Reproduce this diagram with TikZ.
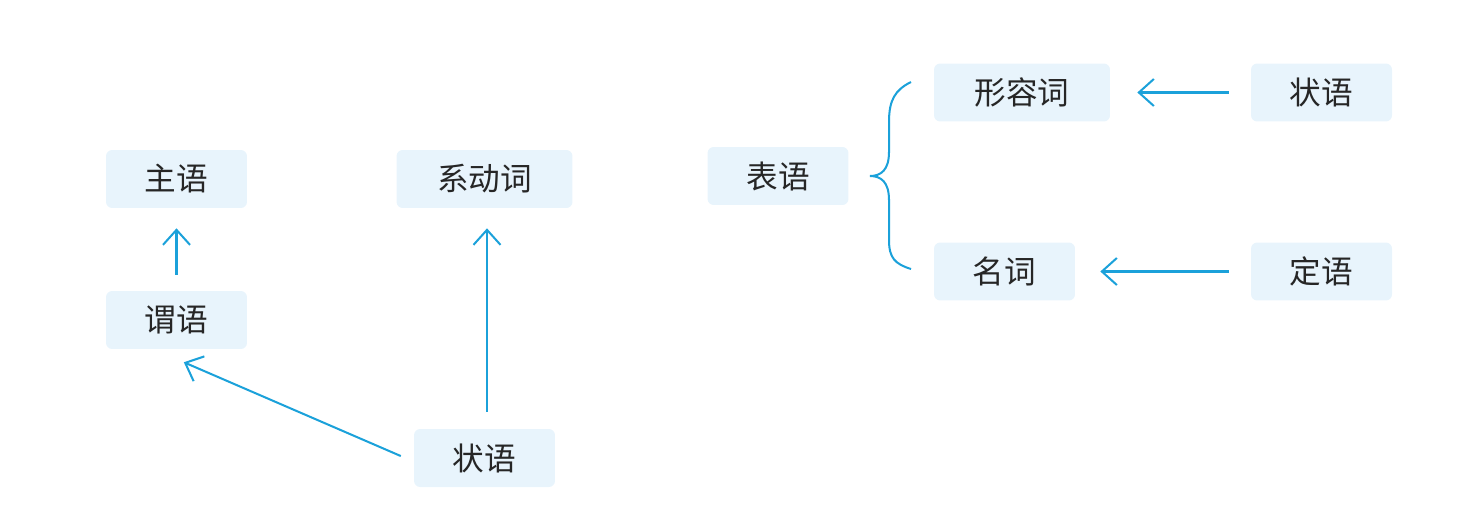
\documentclass[tikz,border=0pt]{standalone}
\usepackage{fontspec}
\usepackage{tikz}
\usetikzlibrary{arrows.meta,calc}
\setmainfont{Noto Sans CJK SC}
\definecolor{boxfill}{HTML}{E8F4FC}
\definecolor{linkblue}{HTML}{1BA1DA}
\definecolor{wordtext}{HTML}{262626}

\begin{document}
\begin{tikzpicture}[x=0.02cm,y=-0.02cm,
        word/.style={fill=boxfill,rounded corners=3.5pt,minimum width=2.82cm,minimum height=1.16cm,inner xsep=0pt,text=wordtext,font=\fontsize{18pt}{21pt}\selectfont},
        wide/.style={word,minimum width=3.52cm},
        arr/.style={draw=linkblue,line width=1.15pt,-{Straight Barb[length=0.3cm,width=0.54cm,line width=1.15pt]}},
        brace/.style={draw=linkblue,line width=1.15pt}]
    \useasboundingbox (0,0) rectangle (1484,524);
    \node[word] (zhuyu) at (176.5,179) {主语};
    \node[word] (weiyu) at (176.5,320) {谓语};
    \node[wide] (xidongci) at (484.5,179) {系动词};
    \node[word] (zhuangyu) at (484.5,458) {状语};
    \node[word] (biaoyu) at (778,176) {表语};
    \node[wide] (xingrongci) at (1022,92.5) {形容词};
    \node[word] (mingci) at (1004.5,271.5) {名词};
    \node[word] (zhuangyuB) at (1321.5,92.5) {状语};
    \node[word] (dingyu) at (1321.5,271.5) {定语};
    \draw[arr,shorten <=0.32cm,shorten >=0.4cm] (weiyu.north) -- (zhuyu.south);
    \draw[arr,shorten <=0.34cm,shorten >=0.4cm] ($(zhuangyu.north)+(2.5,0)$) -- ($(xidongci.south)+(2.5,0)$);
    \draw[arr,shorten <=0.28cm,shorten >=0.65cm] ($(zhuangyu.west)+(0,3.6)$) -- ($(weiyu.south)+(-22.5,0)$);
    \draw[arr,shorten <=0.44cm,shorten >=0.54cm] (zhuangyuB.west) -- (xingrongci.east);
    \draw[arr,shorten <=0.44cm,shorten >=0.5cm] (dingyu.west) -- (mingci.east);
    \draw[brace] (911,82) .. controls (895,90) and (889,100) .. (889,122) -- (889,152)
        .. controls (889,170) and (881,176) .. (870,176)
        .. controls (881,176) and (889,182) .. (889,200) -- (889,240)
        .. controls (889,258) and (895,264) .. (911,269);
\end{tikzpicture}
\end{document}
